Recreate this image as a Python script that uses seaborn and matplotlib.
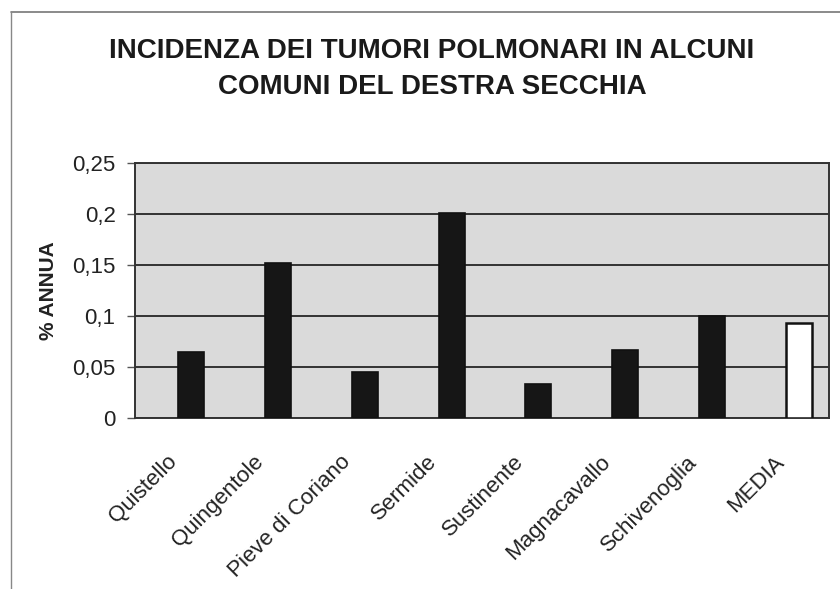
import matplotlib
matplotlib.use("Agg")
import matplotlib.pyplot as plt
import matplotlib.transforms as mtransforms
import seaborn as sns
import pandas as pd
import numpy as np
from matplotlib.lines import Line2D

# data
comuni = ["Quistello", "Quingentole", "Pieve di Coriano", "Sermide",
          "Sustinente", "Magnacavallo", "Schivenoglia", "MEDIA"]
incidenza = [0.065, 0.152, 0.045, 0.201, 0.033, 0.067, 0.100, 0.093]
y_ticks = [0, 0.05, 0.1, 0.15, 0.2, 0.25]
y_tick_labels = ["0", "0,05", "0,1", "0,15", "0,2", "0,25"]

title = "INCIDENZA DEI TUMORI POLMONARI IN ALCUNI\nCOMUNI DEL DESTRA SECCHIA"

sns.set_style("white")
plt.rcParams["font.family"] = ["Liberation Sans", "DejaVu Sans"]

# the old Excel chart leaves an empty slot left of each bar
df = pd.DataFrame({"comune": comuni, "valore": incidenza, "serie": "dati"})

fig = plt.figure(figsize=(8.4, 5.89), dpi=100)
fig.patch.set_facecolor("white")
ax = fig.add_axes([135 / 840, 1 - 418 / 589, (829 - 135) / 840, (418 - 163) / 589])
ax.set_facecolor("#dadada")

sns.barplot(data=df, x="comune", y="valore", hue="serie", hue_order=["vuoto", "dati"],
            order=comuni, width=0.6, dodge=True, palette={"vuoto": "white", "dati": "#161616"},
            edgecolor="#111111", linewidth=1.2, legend=False, ax=ax, zorder=3)

for p in ax.patches:
    idx = int(round(p.get_x()))
    if 0 <= idx < len(comuni) and comuni[idx] == "MEDIA":
        p.set_facecolor("white")
        p.set_linewidth(1.8)

ax.set_xlim(-0.5, len(comuni) - 0.5)
ax.set_ylim(0, 0.25)
ax.set_yticks(y_ticks)
ax.set_yticklabels(y_tick_labels, fontsize=16, color="#222222")
ax.yaxis.grid(True, color="#333333", linewidth=1.4, zorder=1)
ax.set_axisbelow(True)

ax.set_xticks(range(len(comuni)))
ax.set_xticklabels(comuni, rotation=45, ha="right", rotation_mode="anchor",
                   fontsize=16, color="#222222")
ax.set_xticks(np.arange(-0.5, len(comuni), 1.0), minor=True)
ax.tick_params(axis="x", which="major", length=0, pad=24)
ax.tick_params(axis="x", which="minor", length=6, width=1, color="#555555", direction="out")
ax.tick_params(axis="y", length=6, width=1, color="#555555", direction="out", pad=8, left=True)

# labels end a little left of the category centre, as in the scan
shift = mtransforms.ScaledTranslation(-12 / 100, 0, fig.dpi_scale_trans)
for lab in ax.get_xticklabels():
    lab.set_transform(lab.get_transform() + shift)

ax.set_xlabel("")
ax.set_ylabel("% ANNUA", fontsize=15, fontweight="bold", color="#222222", labelpad=10)

for side in ["left", "bottom", "right", "top"]:
    ax.spines[side].set_visible(True)
    ax.spines[side].set_color("#333333")
    ax.spines[side].set_linewidth(1.4)

fig.text(432 / 840, 1 - 69 / 589, title, ha="center", va="center", fontsize=20,
         fontweight="bold", color="#1a1a1a", linespacing=1.45)

# scan border of the chart frame
fig.add_artist(Line2D([11 / 840, 1.0], [1 - 12 / 589, 1 - 12 / 589], color="#777777", lw=1.2))
fig.add_artist(Line2D([11 / 840, 11 / 840], [0.0, 1 - 12 / 589], color="#888888", lw=1.0))

fig.savefig("out.png", dpi=100)
